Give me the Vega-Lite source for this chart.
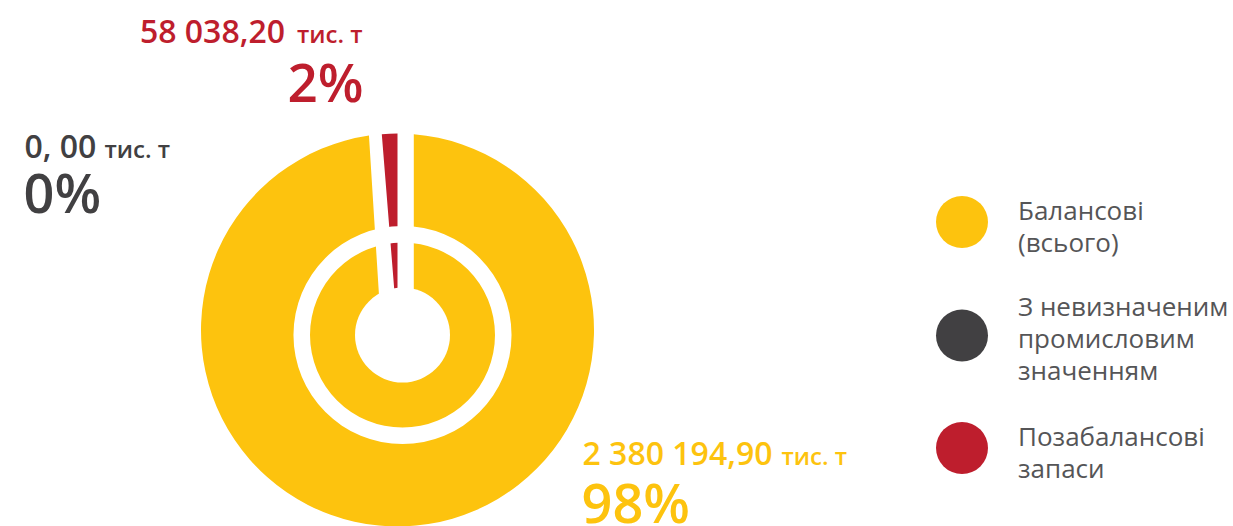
{
  "$schema": "https://vega.github.io/schema/vega-lite/v6.json",
  "width": 795,
  "height": 660,
  "padding": 0,
  "autosize": {"type": "pad"},
  "background": "white",
  "config": {"view": {"stroke": null}},
  "data": {
    "values": [
      {"category": "Балансові (всього)", "value": 2380194.9, "label": "2 380 194,90", "unit": "тис. т", "share": "98%"},
      {"category": "З невизначеним промисловим значенням", "value": 0, "label": "0, 00", "unit": "тис. т", "share": "0%"},
      {"category": "Позабалансові запаси", "value": 58038.2, "label": "58 038,20", "unit": "тис. т", "share": "2%"}
    ]
  },
  "layer": [
    {
      "transform": [{"filter": "datum.category == 'Балансові (всього)'"}],
      "mark": {"type": "arc", "innerRadius": 38, "outerRadius": 196.5, "padAngle": 0.163},
      "encoding": {
        "theta": {"field": "value", "type": "quantitative", "scale": {"range": [0, 6.2204]}},
        "color": {
          "field": "category",
          "type": "nominal",
          "scale": {
            "domain": ["Балансові (всього)", "З невизначеним промисловим значенням", "Позабалансові запаси"],
            "range": ["#FDC30E", "#414042", "#BE1E2D"]
          },
          "legend": {
            "title": null,
            "orient": "none",
            "legendX": 936,
            "legendY": 196,
            "padding": 0,
            "symbolType": "circle",
            "symbolSize": 2704,
            "symbolStrokeWidth": 0,
            "symbolOpacity": 1,
            "labelFont": "Open Sans",
            "labelFontSize": 26,
            "labelColor": "#555557",
            "labelOffset": 30,
            "labelLimit": 0,
            "rowPadding": 37.5,
            "labelExpr": "datum.label == 'Балансові (всього)' ? ['Балансові', '(всього)'] : datum.label == 'Позабалансові запаси' ? ['Позабалансові', 'запаси'] : ['З невизначеним', 'промисловим', 'значенням']",
            "encode": {
              "labels": {
                "update": {
                  "lineHeight": {"value": 32},
                  "dy": {"signal": "datum.label == 'З невизначеним промисловим значенням' ? -28 : -10"}
                }
              }
            }
          }
        }
      }
    },
    {
      "transform": [{"filter": "datum.category == 'Позабалансові запаси'"}],
      "mark": {"type": "arc", "innerRadius": 38, "outerRadius": 196.5, "color": "#BE1E2D"},
      "encoding": {
        "theta": {"field": "value", "type": "quantitative", "scale": {"range": [-0.08, 0]}}
      }
    },
    {
      "transform": [{"filter": "datum.category == 'Балансові (всього)'"}],
      "mark": {"type": "arc", "innerRadius": 92.5, "outerRadius": 109, "color": "white", "xOffset": 5, "yOffset": 5},
      "encoding": {
        "theta": {"field": "value", "type": "quantitative"}
      }
    },
    {
      "transform": [{"filter": "datum.category == 'Балансові (всього)'"}],
      "mark": {"type": "arc", "innerRadius": 0, "outerRadius": 47.5, "color": "white", "xOffset": 5, "yOffset": 5},
      "encoding": {
        "theta": {"field": "value", "type": "quantitative"}
      }
    },
    {
      "transform": [{"filter": "datum.category == 'Позабалансові запаси'"}],
      "mark": {"type": "text", "align": "right", "baseline": "alphabetic", "dx": -112.5, "dy": -287, "font": "Open Sans", "fontWeight": 600, "fontSize": 32, "color": "#BE1E2D"},
      "encoding": {"text": {"field": "label"}}
    },
    {
      "transform": [{"filter": "datum.category == 'Позабалансові запаси'"}],
      "mark": {"type": "text", "align": "right", "baseline": "alphabetic", "dx": -35, "dy": -287, "font": "Open Sans", "fontWeight": 600, "fontSize": 24, "color": "#BE1E2D"},
      "encoding": {"text": {"field": "unit"}}
    },
    {
      "transform": [{"filter": "datum.category == 'Позабалансові запаси'"}],
      "mark": {"type": "text", "align": "right", "baseline": "alphabetic", "dx": -34, "dy": -228, "font": "Open Sans", "fontWeight": 600, "fontSize": 53, "color": "#BE1E2D"},
      "encoding": {"text": {"field": "share"}}
    },
    {
      "transform": [{"filter": "datum.category == 'З невизначеним промисловим значенням'"}],
      "mark": {"type": "text", "align": "left", "baseline": "alphabetic", "dx": -373, "dy": -172, "font": "Open Sans", "fontWeight": 600, "fontSize": 32, "color": "#414042"},
      "encoding": {"text": {"field": "label"}}
    },
    {
      "transform": [{"filter": "datum.category == 'З невизначеним промисловим значенням'"}],
      "mark": {"type": "text", "align": "left", "baseline": "alphabetic", "dx": -293, "dy": -172, "font": "Open Sans", "fontWeight": 600, "fontSize": 24, "color": "#414042"},
      "encoding": {"text": {"field": "unit"}}
    },
    {
      "transform": [{"filter": "datum.category == 'З невизначеним промисловим значенням'"}],
      "mark": {"type": "text", "align": "left", "baseline": "alphabetic", "dx": -374, "dy": -117, "font": "Open Sans", "fontWeight": 600, "fontSize": 54, "color": "#414042"},
      "encoding": {"text": {"field": "share"}}
    },
    {
      "transform": [{"filter": "datum.category == 'Балансові (всього)'"}],
      "mark": {"type": "text", "align": "left", "baseline": "alphabetic", "dx": 185, "dy": 135, "font": "Open Sans", "fontWeight": 600, "fontSize": 32, "color": "#FDC30E"},
      "encoding": {"text": {"field": "label"}}
    },
    {
      "transform": [{"filter": "datum.category == 'Балансові (всього)'"}],
      "mark": {"type": "text", "align": "left", "baseline": "alphabetic", "dx": 384, "dy": 135, "font": "Open Sans", "fontWeight": 600, "fontSize": 24, "color": "#FDC30E"},
      "encoding": {"text": {"field": "unit"}}
    },
    {
      "transform": [{"filter": "datum.category == 'Балансові (всього)'"}],
      "mark": {"type": "text", "align": "left", "baseline": "alphabetic", "dx": 184, "dy": 193, "font": "Open Sans", "fontWeight": 600, "fontSize": 54, "color": "#FDC30E"},
      "encoding": {"text": {"field": "share"}}
    }
  ],
  "resolve": {"scale": {"theta": "independent"}}
}
